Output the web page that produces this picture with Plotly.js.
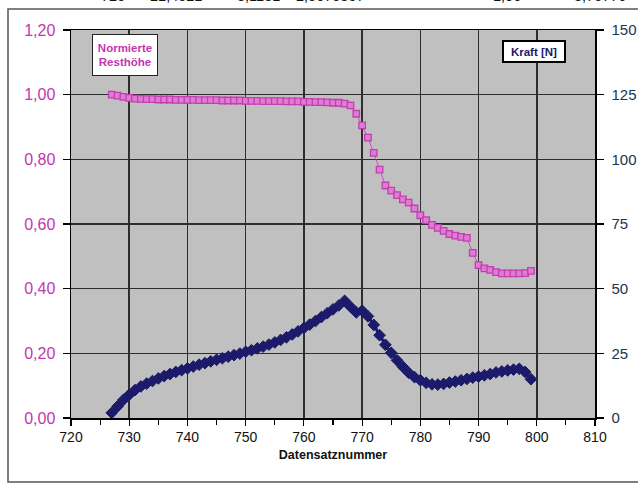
<!DOCTYPE html>
<html>
<head>
<meta charset="utf-8">
<script src="https://cdn.plot.ly/plotly-3.0.1.min.js"></script>
<style>html,body{margin:0;padding:0;background:#fff;}#chart{width:638px;height:485px;}</style>
</head>
<body>
<div id="chart"></div>
<script>
// Data
const datensatz = [727,728,729,730,731,732,733,734,735,736,737,738,739,740,741,742,743,744,745,746,747,748,749,750,751,752,753,754,755,756,757,758,759,760,761,762,763,764,765,766,767,768,769,770,771,772,773,774,775,776,777,778,779,780,781,782,783,784,785,786,787,788,789,790,791,792,793,794,795,796,797,798,799];
const resthoehe = [1.000,0.997,0.993,0.990,0.988,0.987,0.986,0.986,0.985,0.985,0.985,0.984,0.984,0.984,0.984,0.983,0.983,0.983,0.983,0.982,0.982,0.982,0.982,0.981,0.981,0.981,0.980,0.980,0.980,0.980,0.979,0.979,0.979,0.978,0.978,0.977,0.977,0.976,0.975,0.975,0.972,0.967,0.941,0.905,0.867,0.820,0.768,0.719,0.703,0.689,0.676,0.666,0.648,0.627,0.612,0.597,0.588,0.579,0.569,0.564,0.560,0.557,0.511,0.473,0.463,0.458,0.451,0.447,0.447,0.447,0.447,0.448,0.455];
const kraft = [2.0,4.5,7.0,9.0,10.8,12.2,13.3,14.3,15.3,16.2,17.0,17.8,18.5,19.2,19.9,20.6,21.2,21.9,22.5,23.1,23.7,24.3,24.9,25.6,26.2,26.9,27.6,28.4,29.2,30.2,31.2,32.3,33.5,34.8,36.1,37.5,39.0,40.5,42.0,43.5,45.3,43.0,40.8,41.5,39.3,36.0,32.0,28.3,25.2,22.3,19.8,17.5,15.8,14.6,13.6,13.0,12.9,13.2,13.7,14.1,14.6,15.1,15.6,16.0,16.5,17.0,17.6,18.0,18.4,18.7,19.0,17.8,15.0];
const topValues = ["725","21,4521","3,1131","2,5675857","1,06","3,75776"];
const topX = [113,176,258,330,507,600];

const W = 638, H = 485;
const L = 71, R = 43, T = 30, B = 67;
const pw = W - L - R, ph = H - T - B;
const px = v => (v - L) / pw;
const py = v => (H - B - v) / ph;

const magenta = '#c236b0';
const navy = '#1b1a6b';

const traces = [
  {
    x: datensatz, y: resthoehe, type: 'scatter', mode: 'lines+markers',
    name: 'Normierte Resthöhe', yaxis: 'y',
    line: {color: '#cc4cbc', width: 1},
    marker: {symbol: 'square', size: 6.5, color: '#e07ad4', line: {color: '#c040b0', width: 1.3}}
  },
  {
    x: datensatz, y: kraft, type: 'scatter', mode: 'lines+markers',
    name: 'Kraft [N]', yaxis: 'y2',
    line: {color: navy, width: 3},
    marker: {symbol: 'diamond', size: 9, color: navy, line: {color: navy, width: 1}}
  }
];

const annotations = [
  {xref:'paper', yref:'paper', x: px(124.5), y: py(55), xanchor:'center', yanchor:'middle',
   text:'Normierte<br>Resthöhe', showarrow:false, align:'center',
   font:{family:'Liberation Sans, Arial, sans-serif', size:11.5, color: magenta, weight:'bold'},
   bgcolor:'#ffffff', bordercolor:'#222', borderwidth:1, borderpad:2, width:60, height:36},
  {xref:'paper', yref:'paper', x: px(533.5), y: py(51), xanchor:'center', yanchor:'middle',
   text:'<b>Kraft [N]</b>', showarrow:false,
   font:{family:'Liberation Sans, Arial, sans-serif', size:11.5, color: navy},
   bgcolor:'#ffffff', bordercolor:'#000', borderwidth:2, borderpad:2, width:56, height:15}
];
topValues.forEach((t, i) => {
  annotations.push({xref:'paper', yref:'paper', x: px(topX[i]), y: py(6), xanchor:'center', yanchor:'bottom',
    text: t, showarrow:false, font:{family:'Liberation Sans, Arial, sans-serif', size:14.5, color:'#111'}});
});

const layout = {
  width: W, height: H,
  margin: {l: L, r: R, t: T, b: B, pad: 0},
  paper_bgcolor: '#ffffff',
  plot_bgcolor: '#c0c0c0',
  separators: ',.',
  showlegend: false,
  font: {family: 'Liberation Sans, Arial, sans-serif', color: '#000'},
  xaxis: {
    range: [720, 810], dtick: 10, tick0: 720,
    showgrid: true, gridcolor: '#2e2e2e', gridwidth: 1.5,
    showline: true, linecolor: '#000', linewidth: 1.5, mirror: true,
    ticks: 'outside', ticklen: 6, tickcolor: '#000', tickwidth: 1.2,
    minor: {dtick: 5, ticks: 'outside', ticklen: 5, tickcolor: '#000', tickwidth: 1.2, showgrid: false},
    tickfont: {size: 14, color: '#111'},
    zeroline: false,
    title: {text: '<b>Datensatznummer</b>', font: {size: 12.5, color: '#111'}, standoff: 6}
  },
  yaxis: {
    range: [0, 1.2], dtick: 0.2, tickformat: '.2f',
    showgrid: true, gridcolor: '#2e2e2e', gridwidth: 1.5,
    showline: true, linecolor: '#000', linewidth: 1.5,
    ticks: 'outside', ticklen: 7, tickcolor: '#000', tickwidth: 1.2,
    tickfont: {size: 16, color: magenta},
    zeroline: false, ticklabelstandoff: 4
  },
  yaxis2: {
    range: [0, 150], dtick: 25, overlaying: 'y', side: 'right',
    showgrid: false, showline: true, linecolor: '#000', linewidth: 1.5,
    ticks: 'outside', ticklen: 7, tickcolor: '#000', tickwidth: 1.2,
    tickfont: {size: 15, color: '#1a3550'},
    zeroline: false, ticklabelstandoff: 5
  },
  annotations: annotations,
  shapes: [
    {type:'rect', xref:'paper', yref:'paper', x0: px(8), x1: px(660), y0: py(482), y1: py(9),
     line:{color:'#555', width:1.5}, fillcolor:'rgba(0,0,0,0)', layer:'above'}
  ]
};

Plotly.newPlot('chart', traces, layout, {displayModeBar: false, staticPlot: true});
</script>
</body>
</html>
